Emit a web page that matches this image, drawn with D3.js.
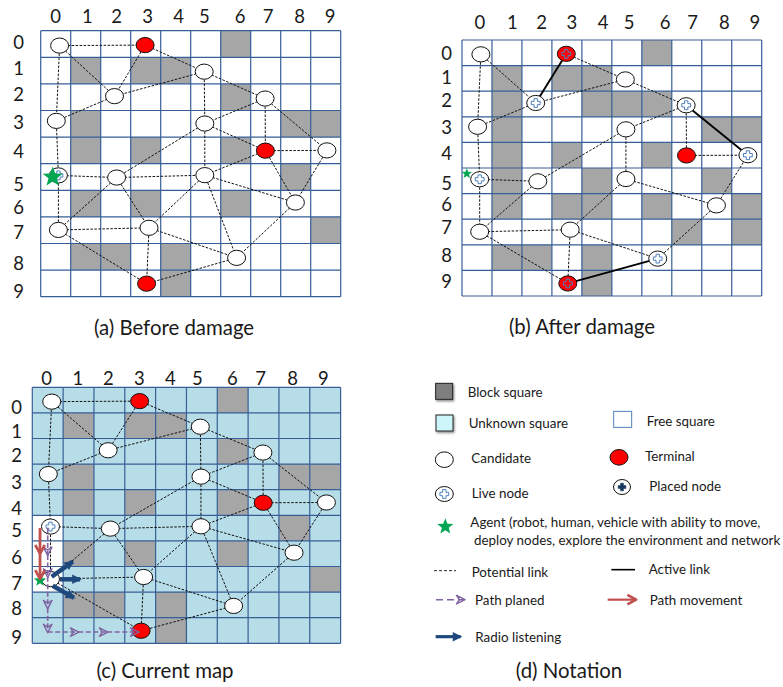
<!DOCTYPE html>
<html><head><meta charset="utf-8">
<script src="https://cdn.jsdelivr.net/npm/d3@7/dist/d3.min.js"></script>
<style>html,body{margin:0;padding:0;background:#fff}svg{display:block}text{font-family:Lato,"Open Sans",sans-serif;fill:#1a1a1a}</style>
</head><body><svg id="c" width="783" height="687"></svg>
<script>
const gridLabels = ["0","1","2","3","4","5","6","7","8","9"];
const nodeNames = ["A","B","C","D","E","F","G","H","I","J","K","L","M","N","T1","T2","T3"];
const nodeCols  = [0.63,5.45,2.46,7.48,0.52,5.47,9.54,0.59,2.53,5.47,8.49,0.59,3.61,6.53,3.48,7.49,3.53];
const nodeRows  = [0.56,1.54,2.46,2.55,3.39,3.49,4.50,5.44,5.52,5.43,6.46,7.49,7.41,8.54,0.54,4.51,9.51];
const terminals = ["T1","T2","T3"];
const blocksBase = [[6,0],[1,1],[3,1],[4,1],[6,2],[1,3],[8,3],[9,3],[1,4],[3,4],[6,4],[8,5],[1,6],[3,6],[6,6],[9,7],[1,8],[2,8],[4,8],[4,9]];
const blocksAfter = [[6,0],[1,1],[3,1],[4,1],[1,2],[4,2],[5,2],[6,2],[1,3],[8,3],[9,3],[1,4],[3,4],[6,4],[1,5],[4,5],[8,5],[1,6],[3,6],[4,6],[6,6],[9,6],[7,7],[9,7],[1,8],[2,8],[4,8],[4,9]];
const freeCellsCurrent = [[0,5],[0,6],[0,7]];
const edgesFull = ["A-T1","A-E","A-C","T1-C","T1-B","B-C","C-E","B-D","B-F","D-F","D-T2","D-G","F-T2","F-I","F-J","T2-G","T2-J","T2-K","G-K","E-H","H-I","H-L","I-J","I-L","I-M","J-M","J-K","J-N","K-N","L-M","L-T3","M-N","M-T3","N-T3"];
const edgesAfter = ["A-E","A-C","T1-B","B-C","C-E","B-D","D-F","D-T2","T2-G","F-I","F-J","J-K","J-M","E-H","H-I","H-L","I-L","L-M","L-T3","M-N","M-T3","K-G","K-N"];
const activeAfter = ["C-T1","D-G","N-T3"];
const liveAfter = ["C","D","G","H","N","T1","T3"];
const planCols = [0.5,0.5,0.5,0.5,0.5,1.49,2.43,3.44];
const planRows = [5.5,6.55,7.4,8.63,9.56,9.56,9.56,9.56];
const moveCols = [0.25,0.25,0.25];
const moveRows = [5.5,6.47,7.45];
const listenFrom = [[0.63,7.4],[0.9,7.5],[0.66,7.75]];
const listenTo = [[1.31,6.81],[1.55,7.5],[1.35,8.22]];

const nodes = new Map(nodeNames.map((n,i)=>[n,{name:n,c:nodeCols[i],r:nodeRows[i]}]));
const svg = d3.select("#c");
const GRID="#365F96", BLOCK="#A6A6A6", UNK="#B7DDE8", DARK="#111", RED="#FF0000", GREEN="#00A651";
const BLUE="#1F497D", MOVE="#C0504D", PLAN="#8064A2", LIVE="#4F81BD";

const defs = svg.append("defs");
const f = defs.append("filter").attr("id","sh").attr("x","-30%").attr("y","-30%").attr("width","170%").attr("height","170%");
f.append("feDropShadow").attr("dx",1).attr("dy",1.5).attr("stdDeviation",1.2).attr("flood-color","#555").attr("flood-opacity",.7);
function marker(id,path,fill,stroke,sw,w,refX){
  defs.append("marker").attr("id",id).attr("markerUnits","userSpaceOnUse").attr("orient","auto")
    .attr("viewBox","-12 -8 24 16").attr("refX",refX).attr("refY",0).attr("markerWidth",w).attr("markerHeight",w*16/24)
    .append("path").attr("d",path).attr("fill",fill).attr("stroke",stroke).attr("stroke-width",sw).attr("stroke-linejoin","round");
}
marker("mBlue","M-4,-6L8,0L-4,6Z",BLUE,"none",0,19,6);
marker("mRed","M-5,-6L6,0L-5,6",  "none",MOVE,3.4,19,5);
marker("mPlan","M-6,-6L6,0L-6,6L-2,0Z","none",PLAN,2,17,5);

const star = (x,y,R)=>d3.range(10).map(i=>{const a=-Math.PI/2+i*Math.PI/5,r=i%2?R*0.42:R;return [x+r*Math.cos(a),y+r*Math.sin(a)]});
const drawStar=(g,x,y,R)=>g.append("polygon").attr("points",star(x,y,R).map(p=>p.join(",")).join(" ")).attr("fill",GREEN);
const drawPlus=(g,x,y,color,fill,s,sw)=>{
  const a=s, b=s*0.38;
  g.append("path").attr("transform",`translate(${x},${y})`)
   .attr("d",`M${-b},${-a}H${b}V${-b}H${a}V${b}H${b}V${a}H${-b}V${b}H${-a}V${-b}H${-b}Z`)
   .attr("fill",fill).attr("stroke",color).attr("stroke-width",sw);
};

function panel(o){
  const x=d3.scaleLinear([0,10],o.xr), y=d3.scaleLinear([0,10],o.yr);
  const g=svg.append("g");
  g.append("rect").attr("x",x(0)).attr("y",y(0)).attr("width",x(10)-x(0)).attr("height",y(10)-y(0)).attr("fill",o.bg);
  g.selectAll(".free").data(o.free||[]).join("rect").attr("x",d=>x(d[0])).attr("y",d=>y(d[1])).attr("width",x(1)-x(0)).attr("height",y(1)-y(0)).attr("fill","#fff");
  g.selectAll(".blk").data(o.blocks).join("rect").attr("x",d=>x(d[0])).attr("y",d=>y(d[1])).attr("width",x(1)-x(0)).attr("height",y(1)-y(0)).attr("fill",BLOCK);
  const t=d3.range(11);
  g.selectAll(".v").data(t).join("line").attr("x1",d=>x(d)).attr("x2",d=>x(d)).attr("y1",y(0)).attr("y2",y(10)).attr("stroke",GRID).attr("stroke-width",1.2);
  g.selectAll(".h").data(t).join("line").attr("y1",d=>y(d)).attr("y2",d=>y(d)).attr("x1",x(0)).attr("x2",x(10)).attr("stroke",GRID).attr("stroke-width",1.2);
  g.selectAll(".cl").data(gridLabels).join("text").attr("x",(d,i)=>x(i+.5)+o.colNudge[i]).attr("y",o.colY).attr("text-anchor","middle").attr("dominant-baseline","central").attr("font-size",18.5).text(d=>d);
  g.selectAll(".rl").data(gridLabels).join("text").attr("x",o.rowX).attr("y",(d,i)=>y(i+.5)+o.rowNudge[i]).attr("text-anchor","middle").attr("dominant-baseline","central").attr("font-size",18.5).text(d=>d);
  const seg=(e)=>e.split("-").map(n=>nodes.get(n));
  g.selectAll(".e").data(o.edges).join("line").each(function(e){const [a,b]=seg(e);d3.select(this).attr("x1",x(a.c)).attr("y1",y(a.r)).attr("x2",x(b.c)).attr("y2",y(b.r));})
    .attr("stroke","#111").attr("stroke-width",1).attr("stroke-dasharray","2.5,1.5");
  g.selectAll(".a").data(o.active||[]).join("line").each(function(e){const [a,b]=seg(e);d3.select(this).attr("x1",x(a.c)).attr("y1",y(a.r)).attr("x2",x(b.c)).attr("y2",y(b.r));})
    .attr("stroke","#000").attr("stroke-width",1.9);
  g.selectAll(".n").data([...nodes.values()]).join("ellipse").attr("cx",d=>x(d.c)).attr("cy",d=>y(d.r)).attr("rx",9).attr("ry",7.6)
    .attr("fill",d=>terminals.includes(d.name)?RED:"#fff").attr("stroke",DARK).attr("stroke-width",1);
  (o.live||[]).forEach(n=>{const d=nodes.get(n);drawPlus(g,x(d.c),y(d.r),LIVE,terminals.includes(n)?RED:"#fff",4.4,1);});
  return {g,x,y};
}

const a=panel({xr:[40.7,340.7],yr:[30.7,296.7],bg:"#fff",blocks:blocksBase,edges:edgesFull,live:["H"],
  colY:15.5,rowX:18.5,
  colNudge:[0,1.6,1,2,3,-1.4,4.3,2.3,4,4.3],rowNudge:[-2.3,-2.9,-3.2,-1.5,.3,7,3.7,2.1,6.2,7.6]});
drawStar(a.g,a.x(0.4),a.y(5.5),10.5);

const b=panel({xr:[462,761.7],yr:[40,296],bg:"#fff",blocks:blocksAfter,edges:edgesAfter,active:activeAfter,live:liveAfter,
  colY:22,rowX:446.7,
  colNudge:[3,5.3,4.7,5,6.3,2.3,8.2,5.9,7.5,8.2],rowNudge:[-.1,-1.7,-4,-2.9,-2.5,2.5,-2.1,-5.3,-2.6,-2.5]});
drawStar(b.g,b.x(0.16),b.y(5.22),5.5);

const c=panel({xr:[32.3,340.6],yr:[387.3,643.3],bg:UNK,free:freeCellsCurrent,blocks:blocksBase,edges:edgesFull,live:["H"],
  colY:378,rowX:16.7,
  colNudge:[-1,-.6,-1.1,-.9,-.7,-4.6,-.4,-2.8,-1.7,-1.9],rowNudge:[6.6,5.3,3.7,4.8,5.8,2.2,3.3,3.7,3.4,6.5]});
drawStar(c.g,c.x(0.25),c.y(7.55),6.5);
d3.range(1,planCols.length).forEach(i=>c.g.append("line")
  .attr("x1",c.x(planCols[i-1])).attr("y1",c.y(planRows[i-1])).attr("x2",c.x(planCols[i])).attr("y2",c.y(planRows[i]))
  .attr("stroke",PLAN).attr("stroke-width",1.6).attr("stroke-dasharray","5,2.5").attr("marker-end","url(#mPlan)"));
d3.range(1,moveCols.length).forEach(i=>c.g.append("line")
  .attr("x1",c.x(moveCols[i-1])).attr("y1",c.y(moveRows[i-1])).attr("x2",c.x(moveCols[i])).attr("y2",c.y(moveRows[i]))
  .attr("stroke",MOVE).attr("stroke-width",2.8).attr("marker-end","url(#mRed)"));
listenFrom.forEach((p,i)=>c.g.append("line")
  .attr("x1",c.x(p[0])).attr("y1",c.y(p[1])).attr("x2",c.x(listenTo[i][0])).attr("y2",c.y(listenTo[i][1]))
  .attr("stroke",BLUE).attr("stroke-width",4.5).attr("marker-end","url(#mBlue)"));

// captions
const captions=["(a) Before damage","(b) After damage","(c) Current map","(d) Notation"];
const capX=[174,582,165,569], capY=[327,326,670,670];
svg.selectAll(".cap").data(captions).join("text").attr("x",(d,i)=>capX[i]).attr("y",(d,i)=>capY[i]).attr("text-anchor","middle").attr("dominant-baseline","central").attr("font-size",20.4).text(d=>d);

// legend: positions expressed in a local legend frame
const lx=d3.scaleLinear([0,3],[420,421]), ly=d3.scaleLinear([0,3],[370,371]);
const leg=svg.append("g");
const legendLabels=["Block square","Unknown square","Free square","Candidate","Terminal","Live node","Placed node","Agent (robot, human, vehicle with ability to move,"," deploy nodes, explore the environment and network","Potential link","Active link","Path planed","Path movement","Radio listening"];
const labelX=[143,146,680,154,675,155,688,151,162,155,686,165,689,166];
const labelY=[65,160,152,263,257,368,347,455,509,605,596,689,689,800];
leg.selectAll("text").data(legendLabels).join("text").attr("x",(d,i)=>lx(labelX[i])).attr("y",(d,i)=>ly(labelY[i])).attr("dominant-baseline","central").attr("font-size",13.4).text(d=>d.trim());
leg.append("rect").attr("x",lx(47)).attr("y",ly(40)).attr("width",17).attr("height",16).attr("fill","#7F7F7F").attr("stroke","#222").attr("filter","url(#sh)");
leg.append("rect").attr("x",lx(48)).attr("y",ly(135)).attr("width",17).attr("height",16).attr("fill","#CCF6FA").attr("stroke","#222").attr("filter","url(#sh)");
leg.append("rect").attr("x",lx(581)).attr("y",ly(124)).attr("width",18).attr("height",16).attr("fill","#fff").attr("stroke",LIVE);
leg.append("ellipse").attr("cx",lx(73)).attr("cy",ly(269)).attr("rx",9).attr("ry",7.8).attr("fill","#fff").attr("stroke",DARK);
leg.append("ellipse").attr("cx",lx(597)).attr("cy",ly(262)).attr("rx",9).attr("ry",7.8).attr("fill",RED).attr("stroke",DARK);
leg.append("ellipse").attr("cx",lx(73)).attr("cy",ly(372)).attr("rx",9).attr("ry",7.5).attr("fill","#fff").attr("stroke",DARK);
drawPlus(leg,lx(73),ly(372),LIVE,"#fff",4.4,1);
leg.append("ellipse").attr("cx",lx(606)).attr("cy",ly(351)).attr("rx",8.5).attr("ry",7.5).attr("fill","#fff").attr("stroke",DARK);
drawPlus(leg,lx(606),ly(351),"#17375E","#17375E",3.8,.6);
drawStar(leg,lx(76),ly(470),8.5);
leg.append("line").attr("x1",lx(42)).attr("x2",lx(108)).attr("y1",ly(602)).attr("y2",ly(602)).attr("stroke","#111").attr("stroke-width",.9).attr("stroke-dasharray","3,2");
leg.append("line").attr("x1",lx(574)).attr("x2",lx(645)).attr("y1",ly(599)).attr("y2",ly(599)).attr("stroke","#000").attr("stroke-width",1.6);
leg.append("line").attr("x1",lx(48)).attr("x2",lx(133)).attr("y1",ly(689)).attr("y2",ly(689)).attr("stroke",PLAN).attr("stroke-width",1.5).attr("stroke-dasharray","7,4").attr("marker-end","url(#mPlan)");
leg.append("line").attr("x1",lx(563)).attr("x2",lx(646)).attr("y1",ly(689)).attr("y2",ly(689)).attr("stroke",MOVE).attr("stroke-width",2.2).attr("marker-end","url(#mRed)");
leg.append("line").attr("x1",lx(47)).attr("x2",lx(122)).attr("y1",ly(800)).attr("y2",ly(800)).attr("stroke",BLUE).attr("stroke-width",3.2).attr("marker-end","url(#mBlue)");
</script></body></html>
